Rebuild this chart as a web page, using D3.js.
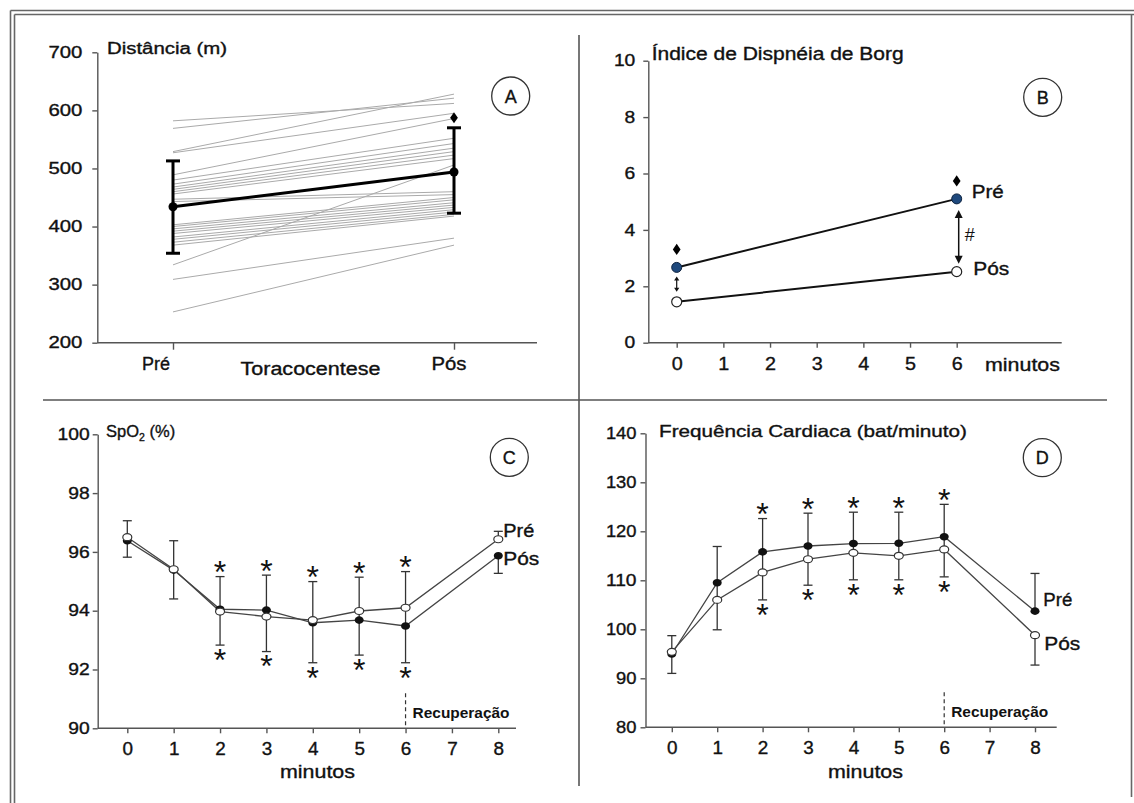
<!DOCTYPE html>
<html>
<head>
<meta charset="utf-8">
<script src="https://cdn.jsdelivr.net/npm/d3@7"></script>
<style>
  body { margin: 0; background: #fff; }
  svg text { font-family: "Liberation Sans", Arial, sans-serif; fill: #111; stroke: #111; stroke-width: 0.35px; }
</style>
</head>
<body>
<svg id="fig" width="1134" height="803"></svg>
<script>
// ---------- data ----------
// A: walked distance, one line per patient, before / after thoracentesis
const distGroups = ["Pré", "Pós"];
const distPre  = [582, 569, 529, 527, 489, 480, 473, 468, 464, 460, 456, 447, 443, 403, 400, 396, 392, 388, 382, 378, 373, 368, 334, 309, 253];
const distPost = [612, 621, 628, 595, 586, 552, 543, 535, 529, 523, 517, 460, 455, 450, 446, 441, 437, 433, 429, 425, 421, 418, 506, 380, 368];
const distMean = [434, 494];
const distHi = [513, 570];
const distLo = [354, 423];
const distTicks = [200, 300, 400, 500, 600, 700];

// B: Borg dyspnoea index at minute 0 and 6
const borgMin = [0, 6];
const borgPre = [2.67, 5.10];
const borgPos = [1.45, 2.52];
const borgTicksY = [0, 2, 4, 6, 8, 10];
const borgTicksX = [0, 1, 2, 3, 4, 5, 6];

// C / D: minute by minute
const minutes = [0, 1, 2, 3, 4, 5, 6, 8];
const minuteTicks = [0, 1, 2, 3, 4, 5, 6, 7, 8];
const starMinutes = [2, 3, 4, 5, 6];
const recoveryStart = 6;

const spo2Open   = [96.50, 95.41, 93.97, 93.80, 93.68, 93.99, 94.10, 96.43];
const spo2Filled = [96.38, 95.38, 94.05, 94.02, 93.59, 93.68, 93.48, 95.87];
const spo2Hi = [97.06, 96.38, 95.16, 95.21, 94.99, 95.14, 95.33, 96.70];
const spo2Lo = [95.82, 94.40, 92.83, 92.61, 92.23, 92.49, 92.23, 95.27];
const spo2Ticks = [90, 92, 94, 96, 98, 100];

const hrPre = [94.96, 109.5, 115.8, 117.0, 117.5, 117.55, 118.9, 103.7];
const hrPos = [95.4, 106.0, 111.6, 114.3, 115.6, 115.0, 116.3, 98.8];
const hrHi = [98.7, 116.9, 122.6, 123.7, 123.9, 123.9, 125.5, 111.4];
const hrLo = [91.0, 99.9, 106.0, 109.0, 110.1, 110.1, 110.7, 92.7];
const hrTicks = [80, 90, 100, 110, 120, 130, 140];

// ---------- helpers ----------
const svg = d3.select("#fig");
const AX = "#555";
const intFmt = d3.format("d");

const label = (g, str, x, y, o = {}) => {
  const t = g.append("text")
    .attr("x", x).attr("y", y)
    .attr("font-size", o.size || 16)
    .attr("text-anchor", o.anchor || "start")
    .text(str);
  if (o.width) t.attr("textLength", o.width).attr("lengthAdjust", "spacingAndGlyphs");
  if (o.weight) t.attr("font-weight", o.weight);
  if (o.family) t.style("font-family", o.family);
  if (o.thin) t.style("stroke-width", "0px");
  return t;
};

const tidyAxis = (g, size, digitW) => {
  g.attr("font-family", null).attr("font-size", null);
  g.selectAll(".domain, .tick line").attr("stroke", AX).attr("stroke-width", 1.4);
  g.selectAll(".tick text")
    .attr("font-size", size)
    .attr("fill", "#111")
    .attr("textLength", function () { return this.textContent.length * digitW; })
    .attr("lengthAdjust", "spacingAndGlyphs");
};

const hline = (g, x1, x2, y) => g.append("line")
  .attr("x1", x1).attr("x2", x2).attr("y1", y).attr("y2", y)
  .attr("stroke", AX).attr("stroke-width", 1.4);

const circleTag = (g, letter, cx, cy) => {
  g.append("circle").attr("cx", cx).attr("cy", cy).attr("r", 19)
    .attr("fill", "none").attr("stroke", "#333").attr("stroke-width", 1.3);
  label(g, letter, cx, cy + 6.5, { size: 18, anchor: "middle" });
};

// tall diamond used for the significance marks
const tallDiamond = {
  draw(ctx, size) {
    const h = Math.sqrt(size) * 0.6, w = h * 0.7;
    ctx.moveTo(0, -h); ctx.lineTo(w, 0); ctx.lineTo(0, h); ctx.lineTo(-w, 0); ctx.closePath();
  }
};
const diamond = d3.symbol().type(tallDiamond).size(85);

// ---------- frame ----------
const frame = svg.append("g").attr("stroke", "#666").attr("stroke-width", 1.6).attr("fill", "none");
frame.append("line").attr("x1", 10.5).attr("x2", 10.5).attr("y1", 10.5).attr("y2", 803);
frame.append("line").attr("x1", 14.5).attr("x2", 14.5).attr("y1", 14.5).attr("y2", 803);
frame.append("line").attr("x1", 10.5).attr("x2", 1134).attr("y1", 10.5).attr("y2", 10.5);
frame.append("line").attr("x1", 14.5).attr("x2", 1134).attr("y1", 14.5).attr("y2", 14.5);
frame.append("line").attr("x1", 1131.5).attr("x2", 1131.5).attr("y1", 14.5).attr("y2", 797);
frame.append("line").attr("x1", 579).attr("x2", 579).attr("y1", 35).attr("y2", 786).attr("stroke", "#555");
frame.append("line").attr("x1", 43).attr("x2", 1107).attr("y1", 400).attr("y2", 400).attr("stroke", "#555");

// ---------- panel A ----------
{
  const g = svg.append("g");
  const y = d3.scaleLinear().domain([200, 700]).range([342.7, 52.3]);
  const x = d3.scalePoint().domain(distGroups).range([173, 454]);

  g.append("g").attr("transform", "translate(97.3,0)")
    .call(d3.axisLeft(y).tickValues(distTicks).tickFormat(intFmt).tickSize(5).tickSizeOuter(0).tickPadding(10))
    .call(a => tidyAxis(a, 16, 11.3));
  g.append("g").attr("transform", "translate(0,342.7)")
    .call(d3.axisBottom(x).tickSize(7).tickFormat(""))
    .call(a => { a.select(".domain").remove(); tidyAxis(a, 16, 10); });
  hline(g, 97.3, 537, 342.7);

  g.append("g").selectAll("line")
    .data(d3.zip(distPre, distPost))
    .join("line")
    .attr("x1", x("Pré")).attr("x2", x("Pós"))
    .attr("y1", d => y(d[0])).attr("y2", d => y(d[1]))
    .attr("stroke", "#aaa").attr("stroke-width", 1);

  g.append("path")
    .datum(distMean)
    .attr("d", d3.line().x((d, i) => x(distGroups[i])).y(d => y(d)))
    .attr("fill", "none").attr("stroke", "#000").attr("stroke-width", 3);

  const bars = g.append("g").attr("stroke", "#000").attr("stroke-width", 3);
  distGroups.forEach((grp, i) => {
    bars.append("line").attr("x1", x(grp)).attr("x2", x(grp)).attr("y1", y(distHi[i])).attr("y2", y(distLo[i]));
    [distHi[i], distLo[i]].forEach(v => bars.append("line")
      .attr("x1", x(grp) - 7).attr("x2", x(grp) + 7).attr("y1", y(v)).attr("y2", y(v)));
  });
  g.selectAll("circle.mean").data(distMean).join("circle")
    .attr("class", "mean")
    .attr("cx", (d, i) => x(distGroups[i])).attr("cy", d => y(d)).attr("r", 4.5).attr("fill", "#000");

  g.append("path").attr("d", diamond)
    .attr("transform", `translate(${x("Pós")},${y(distHi[1]) - 10})`).attr("fill", "#000");

  label(g, "Distância (m)", 107, 54, { size: 16, width: 120 });
  label(g, "Pré", x("Pré") - 17, 370, { size: 18, anchor: "middle", width: 28 });
  label(g, "Pós", x("Pós") - 5, 370, { size: 18, anchor: "middle", width: 35 });
  label(g, "Toracocentese", (x("Pré") + x("Pós")) / 2 - 3, 375, { size: 18, anchor: "middle", width: 140 });
  circleTag(g, "A", 510.7, 96);
}

// ---------- panel B ----------
{
  const g = svg.append("g");
  const y = d3.scaleLinear().domain([0, 10]).range([342.7, 60.7]);
  const x = d3.scaleLinear().domain([0, 6]).range([676.7, 956.7]);

  g.append("g").attr("transform", "translate(648.3,0)")
    .call(d3.axisLeft(y).tickValues(borgTicksY).tickFormat(intFmt).tickSize(5).tickSizeOuter(0).tickPadding(8))
    .call(a => tidyAxis(a, 16, 10.7));
  g.append("g").attr("transform", "translate(0,342.7)")
    .call(d3.axisBottom(x).tickValues(borgTicksX).tickFormat(intFmt).tickSize(5).tickPadding(10))
    .call(a => { a.select(".domain").remove(); tidyAxis(a, 18, 11); });
  hline(g, 648.3, 1061.7, 342.7);

  const line = d3.line().x((d, i) => x(borgMin[i])).y(d => y(d));
  [borgPre, borgPos].forEach(s => g.append("path").datum(s).attr("d", line)
    .attr("fill", "none").attr("stroke", "#111").attr("stroke-width", 2));

  // double arrows between the two conditions
  const arrows = g.append("g").attr("stroke", "#111").attr("fill", "#111");
  borgMin.forEach((m, i) => {
    const small = i === 0;
    const y1 = y(borgPre[i]) + (small ? 9 : 11);
    const y2 = y(borgPos[i]) - (small ? 10 : 8);
    const w = small ? 2.6 : 4, h = small ? 4 : 8, cx = x(m) + (small ? 0 : 2);
    arrows.append("line").attr("x1", cx).attr("x2", cx).attr("y1", y1 + h - 1).attr("y2", y2 - h + 1).attr("stroke-width", small ? 1.2 : 1.5);
    arrows.append("path").attr("stroke", "none").attr("d", `M${cx},${y1}L${cx - w},${y1 + h}L${cx + w},${y1 + h}Z`);
    arrows.append("path").attr("stroke", "none").attr("d", `M${cx},${y2}L${cx - w},${y2 - h}L${cx + w},${y2 - h}Z`);
  });
  label(g, "#", x(6) + 8, (y(borgPre[1]) + y(borgPos[1])) / 2 + 6, { size: 18, thin: true });

  g.selectAll("path.sig").data(borgPre).join("path")
    .attr("class", "sig").attr("d", diamond).attr("fill", "#000")
    .attr("transform", (d, i) => `translate(${x(borgMin[i])},${y(d) - 18})`);

  g.selectAll("circle.pre").data(borgPre).join("circle").attr("class", "pre")
    .attr("cx", (d, i) => x(borgMin[i])).attr("cy", d => y(d)).attr("r", 5)
    .attr("fill", "#1f497d").attr("stroke", "#0e2340").attr("stroke-width", 1);
  g.selectAll("circle.pos").data(borgPos).join("circle").attr("class", "pos")
    .attr("cx", (d, i) => x(borgMin[i])).attr("cy", d => y(d)).attr("r", 5)
    .attr("fill", "#fff").attr("stroke", "#222").attr("stroke-width", 1.2);

  label(g, "Índice de Dispnéia de Borg", 651.7, 60, { size: 17.5, width: 252 });
  label(g, "Pré", x(6) + 15, y(borgPre[1]) - 1, { size: 18, width: 32 });
  label(g, "Pós", x(6) + 16.6, y(borgPos[1]) + 3.5, { size: 18, width: 36 });
  label(g, "minutos", 985, 371, { size: 18, width: 75 });
  circleTag(g, "B", 1042.7, 97.3);
}

// ---------- panels C and D ----------
const timePanel = o => {
  const g = svg.append("g");
  const { x, y } = o;
  const axisY = y.range()[0];

  g.append("g").attr("transform", `translate(${o.axisX},0)`)
    .call(d3.axisLeft(y).tickValues(o.yTicks).tickFormat(intFmt).tickSize(5).tickSizeOuter(0).tickPadding(o.yPad))
    .call(a => tidyAxis(a, 16, o.digitW));
  g.append("g").attr("transform", `translate(0,${axisY})`)
    .call(d3.axisBottom(x).tickValues(minuteTicks).tickFormat(intFmt).tickSize(5).tickPadding(9))
    .call(a => { a.select(".domain").remove(); tidyAxis(a, 18, 10.5); });
  hline(g, o.axisX, o.axisEnd, axisY);

  // recovery marker
  g.append("line").attr("x1", x(recoveryStart)).attr("x2", x(recoveryStart))
    .attr("y1", axisY - 35).attr("y2", axisY)
    .attr("stroke", "#333").attr("stroke-width", 1.2).attr("stroke-dasharray", "4,3");
  label(g, "Recuperação", x(recoveryStart) + 7, axisY - 10.5,
    { size: 15, weight: "bold", width: 97, thin: true, family: "'Liberation Sans Narrow', 'Liberation Sans', Arial, sans-serif" });

  const line = d3.line().x((d, i) => x(minutes[i])).y(d => y(d));
  [o.filled, o.open].forEach(s => g.append("path").datum(s).attr("d", line)
    .attr("fill", "none").attr("stroke", "#444").attr("stroke-width", 1.3));

  const bars = g.append("g").attr("stroke", "#333").attr("stroke-width", 1.3);
  minutes.forEach((m, i) => {
    const top = Math.max(o.filled[i], o.open[i]);
    const bot = Math.min(o.filled[i], o.open[i]);
    const cx = x(m);
    const segs = [[top, o.hi[i]], [bot, o.lo[i]]];
    if (m <= recoveryStart) segs.push([top, bot]);
    segs.forEach(([a, b]) => bars.append("line").attr("x1", cx).attr("x2", cx).attr("y1", y(a)).attr("y2", y(b)));
    [o.hi[i], o.lo[i]].forEach(v => bars.append("line")
      .attr("x1", cx - 4.5).attr("x2", cx + 4.5).attr("y1", y(v)).attr("y2", y(v)));
  });

  g.selectAll("ellipse.filled").data(o.filled).join("ellipse").attr("class", "filled")
    .attr("cx", (d, i) => x(minutes[i])).attr("cy", d => y(d)).attr("rx", 4.5).attr("ry", 3.8)
    .attr("fill", "#111");
  g.selectAll("ellipse.open").data(o.open).join("ellipse").attr("class", "open")
    .attr("cx", (d, i) => x(minutes[i])).attr("cy", d => y(d)).attr("rx", 4.5).attr("ry", 3.5)
    .attr("fill", "#fff").attr("stroke", "#333").attr("stroke-width", 1.2);

  // significance stars above and below the error bars
  starMinutes.forEach(m => {
    const i = minutes.indexOf(m);
    label(g, "*", x(m), y(o.hi[i]) - 12 + 18.4, { size: 32, anchor: "middle", thin: true });
    label(g, "*", x(m), y(o.lo[i]) + 7.5 + 18.4, { size: 32, anchor: "middle", thin: true });
  });

  label(g, "minutos", o.minutosX, 778, { size: 18, anchor: "middle", width: 75 });
  return g;
};

{
  const x = d3.scaleLinear().domain([0, 8]).range([127.3, 498.3]);
  const y = d3.scaleLinear().domain([90, 100]).range([728.3, 434.3]);
  const g = timePanel({
    x, y, axisX: 97.7, axisEnd: 516, yTicks: spo2Ticks, yPad: 3, digitW: 10.7,
    filled: spo2Filled, open: spo2Open, hi: spo2Hi, lo: spo2Lo, minutosX: 317.5
  });
  const t = g.append("text").attr("x", 106).attr("y", 437).attr("font-size", 16.5);
  t.append("tspan").text("SpO");
  t.append("tspan").attr("font-size", 10.5).attr("dy", 4).text("2");
  t.append("tspan").attr("dy", -4).text(" (%)");
  label(g, "Pré", x(8) + 5, y(spo2Open[7]) - 2.6, { size: 18, width: 31 });
  label(g, "Pós", x(8) + 5, y(spo2Filled[7]) + 9.6, { size: 18, width: 36 });
  circleTag(g, "C", 509.3, 457.3);
}

{
  const x = d3.scaleLinear().domain([0, 8]).range([671.8, 1035]);
  const y = d3.scaleLinear().domain([80, 140]).range([727.3, 433.3]);
  const g = timePanel({
    x, y, axisX: 645.5, axisEnd: 1056.7, yTicks: hrTicks, yPad: 4, digitW: 10.2,
    filled: hrPre, open: hrPos, hi: hrHi, lo: hrLo, minutosX: 865.5
  });
  label(g, "Frequência Cardiaca (bat/minuto)", 659, 437, { size: 16.5, width: 308 });
  label(g, "Pré", x(8) + 8.3, y(hrPre[7]) - 5, { size: 18, width: 29 });
  label(g, "Pós", x(8) + 9.3, y(hrPos[7]) + 15, { size: 18, width: 36 });
  circleTag(g, "D", 1042.3, 457.7);
}
</script>
</body>
</html>
